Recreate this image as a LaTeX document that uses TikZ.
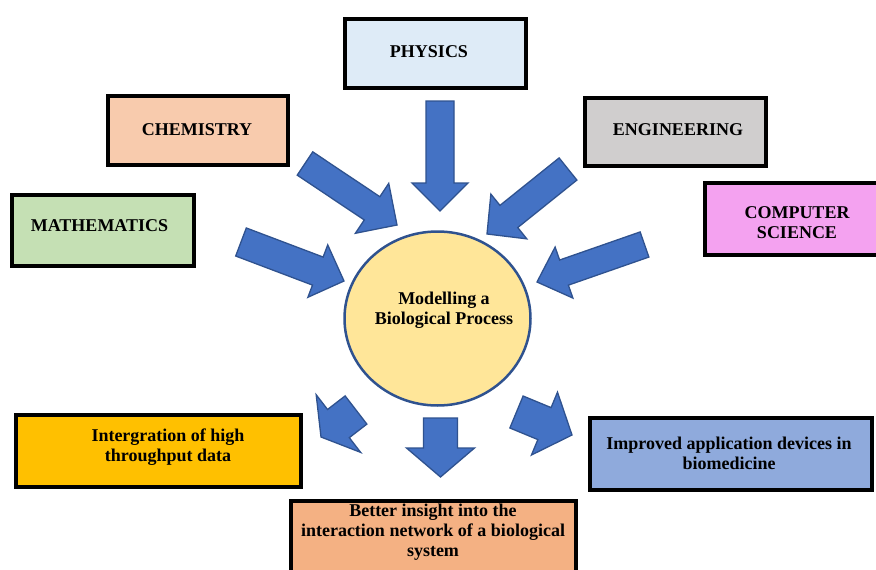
\documentclass[tikz,border=0pt]{standalone}
\usepackage{fontspec}
\setmainfont{Liberation Serif}
\usetikzlibrary{calc,shapes.geometric}
\definecolor{arrowfill}{HTML}{4472C4}
\definecolor{arrowline}{HTML}{2F528F}
\definecolor{corefill}{HTML}{FFE699}
\definecolor{physfill}{HTML}{DEEBF7}
\definecolor{chemfill}{HTML}{F8CBAD}
\definecolor{engfill}{HTML}{D0CECE}
\definecolor{mathfill}{HTML}{C5E0B4}
\definecolor{csfill}{HTML}{F4A2F0}
\definecolor{intgfill}{HTML}{FFC000}
\definecolor{betfill}{HTML}{F4B183}
\definecolor{imprfill}{HTML}{8FAADC}
\tikzset{
  box/.style={draw=black, line width=4pt, inner sep=0pt, anchor=center},
  lbl/.style={font=\bfseries\fontsize{18}{20}\selectfont, align=center, inner sep=0pt, text=black},
  blockarrow/.style={fill=arrowfill, draw=arrowline, line width=1.3pt, line join=miter},
}
% start, tip, shaft half width, head half width, head length
\newcommand\blockarr[5]{%
  \coordinate (s) at #1;
  \coordinate (t) at #2;
  \coordinate (b) at ($(t)!#5!(s)$);
  \draw[blockarrow] ($(s)!#3!90:(t)$) -- ($(b)!#3!90:(t)$) -- ($(b)!#4!90:(t)$)
    -- (t) -- ($(b)!#4!-90:(t)$) -- ($(b)!#3!-90:(t)$) -- ($(s)!#3!-90:(t)$) -- cycle;
}
\begin{document}
\begin{tikzpicture}[x=1pt,y=-1pt]
\useasboundingbox[fill=white] (0,0) rectangle (876,570);

% boxes
\node[box, fill=physfill, minimum width=181pt, minimum height=69pt] (phys) at (435.5,53.5) {};
\node[box, fill=chemfill, minimum width=180pt, minimum height=69pt] (chem) at (198,130.5) {};
\node[box, fill=engfill, minimum width=181pt, minimum height=68pt] (eng) at (675.5,132) {};
\node[box, fill=mathfill, minimum width=182pt, minimum height=71pt] (math) at (103,230.5) {};
\node[box, fill=csfill, minimum width=190pt, minimum height=72pt] (cs) at (800,219) {};
\node[box, fill=intgfill, minimum width=285pt, minimum height=72pt] (intg) at (158.5,451) {};
\node[box, fill=betfill, minimum width=285pt, minimum height=97pt] (bet) at (433.5,549.5) {};
\node[box, fill=imprfill, minimum width=282pt, minimum height=72pt] (impr) at (731,454) {};

% central circle
\node[draw=arrowline, fill=corefill, line width=2.5pt, ellipse, minimum width=186pt, minimum height=174pt, inner sep=0pt] (core) at (437.5,318.5) {};

% labels
\node[lbl] (physt) at (429,52) {PHYSICS};
\node[lbl] (chemt) at (197,130) {CHEMISTRY};
\node[lbl] (engt) at (678,130) {ENGINEERING};
\node[lbl] (matht) at (99.5,226) {MATHEMATICS};
\node[lbl] (cst) at (797,223) {COMPUTER\\SCIENCE};
\node[lbl] (coret) at (444,310) {Modelling a\\Biological Process};
\node[lbl] (intgt) at (168,447) {Intergration of high\\throughput data};
\node[lbl] (bett) at (433,532) {Better insight into the\\interaction network of a biological\\system};
\node[lbl] (imprt) at (729,453) {Improved application devices in\\biomedicine};

% input arrows
\blockarr{(440,101)}{(440,211)}{14pt}{28pt}{28pt}
\blockarr{(305,163.5)}{(397,225)}{14pt}{30pt}{30pt}
\blockarr{(568,169)}{(487,234)}{14.2pt}{28.7pt}{28pt}
\blockarr{(241,242)}{(344,281)}{15pt}{28pt}{28pt}
\blockarr{(644.5,244.5)}{(537,282)}{13.3pt}{27pt}{28.6pt}

% output arrows
\blockarr{(356,410)}{(321,437)}{17.8pt}{36.4pt}{22pt}
\blockarr{(440.5,418)}{(440.5,477)}{17pt}{34pt}{29pt}
\blockarr{(516.5,412)}{(572,435)}{17.3pt}{34pt}{29.8pt}
\end{tikzpicture}
\end{document}
